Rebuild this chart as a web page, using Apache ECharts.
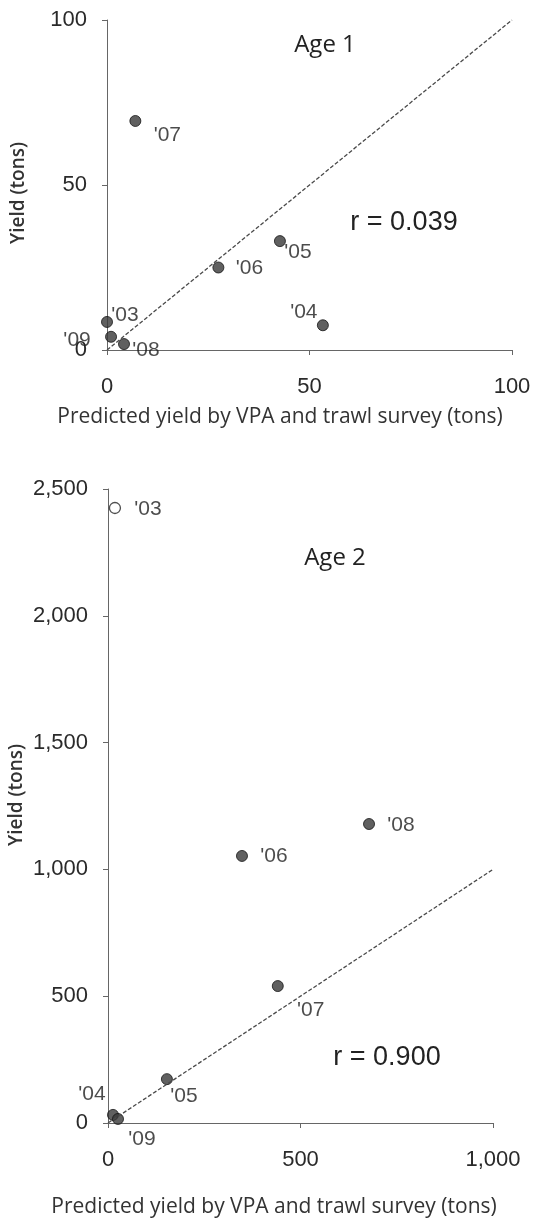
<!DOCTYPE html>
<html>
<head>
<meta charset="utf-8">
<script src="https://cdn.jsdelivr.net/npm/echarts@6/dist/echarts.min.js"></script>
<style>
  html, body { margin: 0; padding: 0; background: #fff; }
  #main { width: 537px; height: 1223px; }
</style>
</head>
<body>
<div id="main"></div>
<script>
// Age 1 panel
const years1 = ["'07", "'06", "'03", "'09", "'08", "'05", "'04"];
const predicted1 = [7, 27.5, 0, 1, 4.2, 42.7, 53.3];
const yield1 = [69.4, 25, 8.5, 4, 1.8, 33, 7.5];
const line1 = [[0, 0], [100, 100]];

// Age 2 panel
const years2 = ["'08", "'06", "'07", "'05", "'04", "'09"];
const predicted2 = [678, 348, 441, 153, 13, 26];
const yield2 = [1179, 1053, 540, 173, 32, 16];
const outlierYears2 = ["'03"];
const outlierPredicted2 = [18];
const outlierYield2 = [2425];
const line2 = [[0, 0], [1000, 1000]];

// label offsets (px) for each year label, per panel
const offs1 = { "'07": [32, 14], "'06": [31, 1], "'03": [18, -7], "'09": [-34, 3],
                "'08": [22, 6], "'05": [18, 11], "'04": [-19, -13] };
const offs2 = { "'03": [33, 1], "'08": [32, 1], "'06": [32, 0], "'07": [33, 24],
                "'05": [17, 17], "'04": [-21, -21], "'09": [24, 20] };

const tickFont = { fontFamily: 'Liberation Sans', fontSize: 22, color: '#2a2a2a' };
const axisLine = { lineStyle: { color: '#666', width: 1 } };

function pts(xs, ys, names, offs) {
  return xs.map(function (x, i) {
    return {
      value: [x, ys[i]],
      label: { show: true, position: 'inside', offset: offs[names[i]], formatter: names[i] }
    };
  });
}

const pointLabel = { fontFamily: 'Liberation Sans', fontSize: 21, color: '#1e1e1e' };
const dot = { color: '#383838', borderColor: '#151515', borderWidth: 1 };

function xAxisOf(grid, max, interval) {
  return {
    type: 'value', gridIndex: grid, min: 0, max: max, interval: interval,
    splitLine: { show: false }, axisLine: axisLine,
    axisTick: { show: true, length: 5, lineStyle: { color: '#666' } },
    axisLabel: Object.assign({ margin: 26, formatter: v => v.toLocaleString('en-US') }, tickFont)
  };
}
function yAxisOf(grid, max, interval) {
  return {
    type: 'value', gridIndex: grid, min: 0, max: max, interval: interval,
    splitLine: { show: false }, axisLine: Object.assign({ onZero: false }, axisLine),
    axisTick: { show: true, length: 5, lineStyle: { color: '#666' } },
    axisLabel: Object.assign({ margin: 20, formatter: v => v.toLocaleString('en-US') }, tickFont)
  };
}

const xTitle = 'Predicted yield by VPA and trawl survey (tons)';
const option = {
  animation: false,
  backgroundColor: '#fff',
  grid: [
    { left: 107, right: 25, top: 20, height: 330 },
    { left: 108, right: 44, top: 489, height: 634 }
  ],
  xAxis: [xAxisOf(0, 100, 50), xAxisOf(1, 1000, 500)],
  yAxis: [yAxisOf(0, 100, 50), yAxisOf(1, 2500, 500)],
  graphic: [
    { type: 'text', x: 280, y: 417, style: { text: xTitle, font: '21px "Open Sans"', fill: '#333', align: 'center', verticalAlign: 'middle' } },
    { type: 'text', x: 274, y: 1207, style: { text: xTitle, font: '21px "Open Sans"', fill: '#333', align: 'center', verticalAlign: 'middle' } },
    { type: 'text', x: 19, y: 193, rotation: Math.PI / 2, style: { text: 'Yield (tons)', font: '600 19px "Open Sans"', fill: '#333', align: 'center', verticalAlign: 'middle' } },
    { type: 'text', x: 17, y: 795, rotation: Math.PI / 2, style: { text: 'Yield (tons)', font: '600 19px "Open Sans"', fill: '#333', align: 'center', verticalAlign: 'middle' } },
    { type: 'text', x: 325, y: 45, style: { text: 'Age 1', font: '24px "Open Sans"', fill: '#222', align: 'center', verticalAlign: 'middle' } },
    { type: 'text', x: 335, y: 558, style: { text: 'Age 2', font: '24px "Open Sans"', fill: '#222', align: 'center', verticalAlign: 'middle' } },
    { type: 'text', x: 404, y: 223, style: { text: 'r = 0.039', font: '27px "Liberation Sans"', fill: '#222', align: 'center', verticalAlign: 'middle' } },
    { type: 'text', x: 387, y: 1058, style: { text: 'r = 0.900', font: '27px "Liberation Sans"', fill: '#222', align: 'center', verticalAlign: 'middle' } }
  ],
  series: [
    {
      type: 'line', xAxisIndex: 0, yAxisIndex: 0, data: line1, symbol: 'none', silent: true,
      lineStyle: { color: '#4a4a4a', width: 1.3, type: [4, 2] }
    },
    {
      type: 'line', xAxisIndex: 1, yAxisIndex: 1, data: line2, symbol: 'none', silent: true,
      lineStyle: { color: '#4a4a4a', width: 1.3, type: [4, 2] }
    },
    {
      type: 'scatter', xAxisIndex: 0, yAxisIndex: 0, symbolSize: 11, itemStyle: dot,
      label: pointLabel, data: pts(predicted1, yield1, years1, offs1)
    },
    {
      type: 'scatter', xAxisIndex: 1, yAxisIndex: 1, symbolSize: 11, itemStyle: dot,
      label: pointLabel, data: pts(predicted2, yield2, years2, offs2)
    },
    {
      type: 'scatter', xAxisIndex: 1, yAxisIndex: 1, symbolSize: 11,
      itemStyle: { color: '#fff', borderColor: '#222', borderWidth: 1.3 },
      label: pointLabel, data: pts(outlierPredicted2, outlierYield2, outlierYears2, offs2)
    }
  ]
};

const chart = echarts.init(document.getElementById('main'));
chart.setOption(option);
</script>
</body>
</html>
